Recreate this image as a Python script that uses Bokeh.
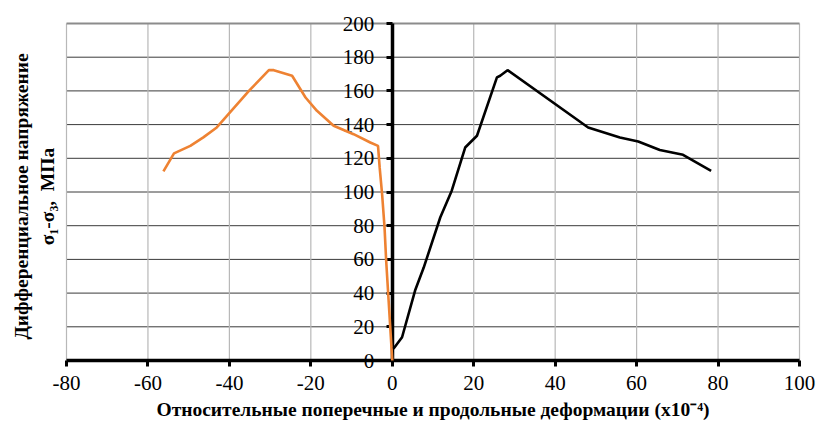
import math
from bokeh.plotting import figure
from bokeh.models import Range1d, LinearAxis, FixedTicker, Label
from bokeh.embed import file_html
from bokeh.resources import INLINE

# Transverse (lateral) strain, x10^-4 (orange, negative side)
trans_strain = [0.0, -0.5, -0.9, -1.5, -1.9, -2.5, -3.1, -3.5, -5.4, -9.5, -14.4,
                -18.5, -21.3, -24.6, -29.1, -30.3, -35.2, -43.1, -46.4, -49.6, -53.6, -56.2]
trans_stress = [0.0, 19.8, 35.6, 59.3, 79.0, 98.8, 114.6, 127.4, 129.4, 134.3, 139.3,
                148.2, 156.1, 169.0, 172.3, 172.3, 160.0, 138.3, 132.4, 127.4, 122.9, 112.2]

# Longitudinal (axial) strain, x10^-4 (black, positive side)
long_strain = [0.3, 2.4, 5.6, 7.7, 11.8, 14.6, 17.9, 20.8, 25.7, 26.5, 28.3,
               48.1, 55.9, 60.4, 65.7, 71.4, 78.3]
long_stress = [7.0, 13.8, 41.5, 55.0, 85.0, 100.8, 126.4, 133.4, 168.0, 169.0, 172.3,
               138.3, 132.4, 130.0, 124.9, 122.1, 112.6]

x_ticks = [-80, -60, -40, -20, 0, 20, 40, 60, 80, 100]
x_tick_labels = ["-80", "-60", "-40", "-20", "0", "20", "40", "60", "80", "100"]
y_ticks = [0, 20, 40, 60, 80, 100, 120, 140, 160, 180, 200]
y_tick_labels = [str(v) for v in y_ticks]

x_min, x_max = x_ticks[0], x_ticks[-1]
y_min, y_max = y_ticks[0], y_ticks[-1]

x_title = "Относительные поперечные и продольные деформации (x10⁻⁴)"
y_title_1 = "Дифференциальное напряжение"
y_title_2 = "σ₁-σ₃,\u00a0\u00a0МПа"

FONT = "Liberation Serif"

# canvas layout (pixels): plot area spans x 66..799, y 23..360
W, H = 816, 421
L, R, T, B = 66, 799, 23, 360
xs = (R - L) / (x_max - x_min)
ys = (B - T) / (y_max - y_min)
x0 = x_min - L / xs
x1 = x_max + (W - R) / xs
y0 = y_min - (H - B) / ys
y1 = y_max + T / ys

p = figure(width=W, height=H, output_backend="svg", toolbar_location=None,
           x_range=Range1d(x0, x1), y_range=Range1d(y0, y1),
           x_axis_location=None, y_axis_location=None,
           min_border=0)
p.background_fill_color = "white"
p.border_fill_color = "white"
p.outline_line_color = None
p.xgrid.visible = False
p.ygrid.visible = False

# grid lines limited to the plot area
gy = y_ticks[1:-1]
p.segment(x0=[x_min] * len(gy), y0=gy, x1=[x_max] * len(gy), y1=gy,
          line_color="#3a3a3a", line_width=1)
p.segment(x0=x_ticks, y0=[y_min] * len(x_ticks), x1=x_ticks, y1=[y_max] * len(x_ticks),
          line_color="#b8b8b8", line_width=1.2)
p.segment(x0=[x_min], y0=[y_max], x1=[x_max], y1=[y_max],
          line_color="#8c8c8c", line_width=1.8)

def style_axis(a, standoff):
    a.axis_line_width = 3.5
    a.axis_line_color = "black"
    a.major_tick_line_width = 3
    a.major_tick_line_color = "black"
    a.major_tick_out = 6
    a.major_tick_in = 0
    a.minor_tick_line_color = None
    a.major_label_standoff = standoff
    a.major_label_text_font = FONT
    a.major_label_text_font_size = "21px"
    a.major_label_text_color = "black"

# x axis at y = 0
xa = LinearAxis(fixed_location=0, ticker=FixedTicker(ticks=x_ticks), bounds=(x_min, x_max))
xa.major_label_overrides = {t: l for t, l in zip(x_ticks, x_tick_labels)}
style_axis(xa, 9)
p.add_layout(xa, "below")

# y axis at x = 0
ya = LinearAxis(fixed_location=0, ticker=FixedTicker(ticks=y_ticks), bounds=(y_min, y_max))
ya.major_label_overrides = {t: l for t, l in zip(y_ticks, y_tick_labels)}
style_axis(ya, 12)
p.add_layout(ya, "left")

# curves (drawn above the axes)
p.line(trans_strain, trans_stress, line_color="#EE8232", line_width=2.6, level="annotation")
p.line(long_strain, long_stress, line_color="black", line_width=2.6, level="annotation")

# titles
p.add_layout(Label(x=(x_min + x_max) / 2, y=(B - 409) / ys, text=x_title, text_align="center",
                   text_baseline="alphabetic", text_font=FONT,
                   text_font_style="bold", text_font_size="19.5px",
                   text_color="black"))
p.add_layout(Label(x=x0 + 21 / xs, y=(B - 196) / ys, text=y_title_1, angle=math.pi / 2,
                   text_align="center", text_baseline="middle", text_font=FONT,
                   text_font_style="bold", text_font_size="19.5px",
                   text_color="black"))
p.add_layout(Label(x=x0 + 47 / xs, y=(B - 196) / ys, text=y_title_2, angle=math.pi / 2,
                   text_align="center", text_baseline="middle", text_font=FONT,
                   text_font_style="bold", text_font_size="19.5px",
                   text_color="black"))

open("out.html", "w").write(file_html(p, INLINE))
